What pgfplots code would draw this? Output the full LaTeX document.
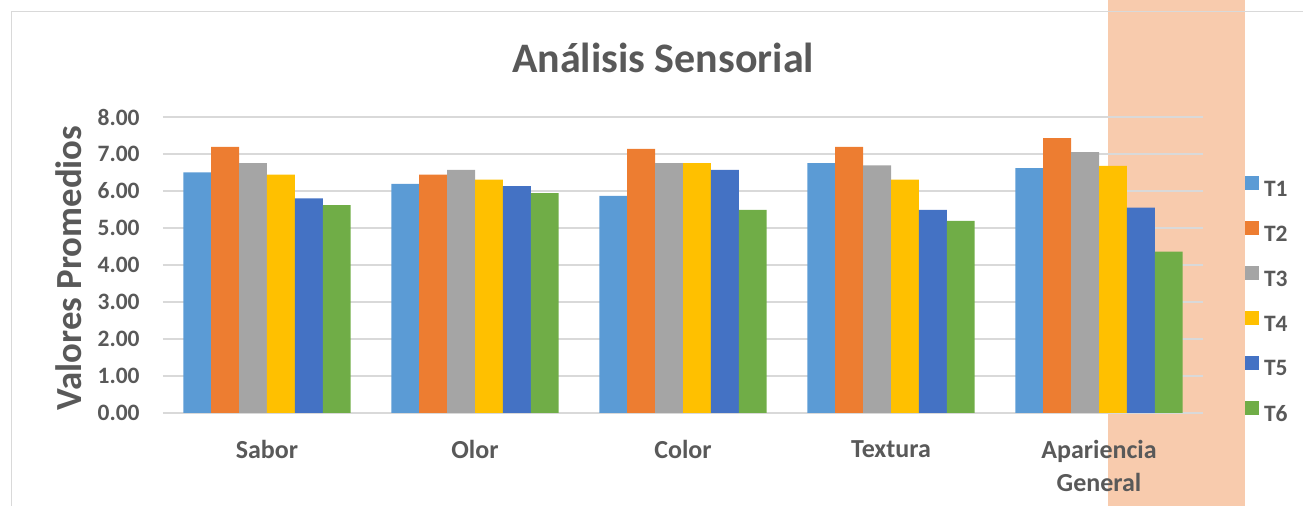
\documentclass[border=0pt]{standalone}
\usepackage{fontspec}
\setmainfont{Carlito}
\usepackage{pgfplots}
\pgfplotsset{compat=1.18}
\usepackage{pgfplotstable}
\definecolor{cT1}{HTML}{5B9BD5}
\definecolor{cT2}{HTML}{ED7D31}
\definecolor{cT3}{HTML}{A5A5A5}
\definecolor{cT4}{HTML}{FFC000}
\definecolor{cT5}{HTML}{4472C4}
\definecolor{cT6}{HTML}{70AD47}
\definecolor{txt}{HTML}{595959}
\definecolor{gridc}{HTML}{D9D9D9}
\definecolor{peach}{HTML}{F8CBAD}
\pgfplotstableread{
cat T1 T2 T3 T4 T5 T6
0 6.50 7.19 6.75 6.44 5.80 5.62
1 6.19 6.44 6.57 6.31 6.13 5.94
2 5.87 7.14 6.75 6.75 6.57 5.49
3 6.75 7.19 6.69 6.31 5.49 5.19
4 6.62 7.43 7.05 6.68 5.55 4.36
}\datatable
\begin{document}
\begin{tikzpicture}
\path[use as bounding box] (0,0) rectangle (651.5pt,-253pt);
\fill[peach] (554pt,0) rectangle (622.5pt,-253pt);
\draw[gridc, line width=0.75pt] (5.75pt,-253pt) -- (5.75pt,-5.75pt) -- (651.5pt,-5.75pt);
\begin{axis}[
  anchor=south west, at={(81.5pt,-206.5pt)},
  scale only axis, width=520pt, height=148pt,
  ybar=0pt, bar width=13.95pt,
  xmin=-0.5, xmax=4.5, ymin=0, ymax=8,
  xtick=data,
  xticklabels={Sabor,Olor,Color,Textura,{Apariencia\\General}},
  ytick={0,1,...,8},
  ymajorgrids, major grid style={gridc, line width=0.9pt},
  axis line style={draw=none},
  major tick length=0pt,
  /pgf/number format/assume math mode=true,
  yticklabel={\pgfmathprintnumber[fixed,fixed zerofill,precision=2]{\tick}},
  yticklabel style={font=\fontsize{11.75}{14}\selectfont\bfseries, text=txt, inner sep=0pt, anchor=east, xshift=-11.5pt},
  xticklabel style={font=\fontsize{13}{16.5}\selectfont\bfseries, text=txt, align=center, inner sep=0pt, anchor=north, yshift=-13.5pt},
  title={Análisis Sensorial},
  title style={font=\fontsize{21}{25}\selectfont\bfseries, text=txt, at={(rel axis cs:0.4808,1.111)}, anchor=base, inner sep=0pt},
  ylabel={Valores Promedios},
  ylabel style={font=\fontsize{18.4}{22}\selectfont\bfseries, text=txt, at={(rel axis cs:-0.0904,0.49)}, anchor=center, inner sep=0pt},
  legend style={at={(rel axis cs:1.0404,0.8007)}, anchor=north west, draw=none, fill=none, inner sep=0pt, outer sep=0pt,
    row sep=10.9pt, font=\fontsize{11.75}{14}\selectfont\bfseries, text=txt,
    nodes={inner sep=0pt, text=txt},
    /tikz/every odd column/.append style={column sep=2.5pt}},
  legend cell align=left,
  legend image code/.code={\fill[#1] (0pt,0pt) rectangle (7pt,7pt);},
]
\addplot[fill=cT1, draw=none] table[x=cat, y=T1] {\datatable};
\addplot[fill=cT2, draw=none] table[x=cat, y=T2] {\datatable};
\addplot[fill=cT3, draw=none] table[x=cat, y=T3] {\datatable};
\addplot[fill=cT4, draw=none] table[x=cat, y=T4] {\datatable};
\addplot[fill=cT5, draw=none] table[x=cat, y=T5] {\datatable};
\addplot[fill=cT6, draw=none] table[x=cat, y=T6] {\datatable};
\legend{T1,T2,T3,T4,T5,T6}
\end{axis}
\end{tikzpicture}
\end{document}
